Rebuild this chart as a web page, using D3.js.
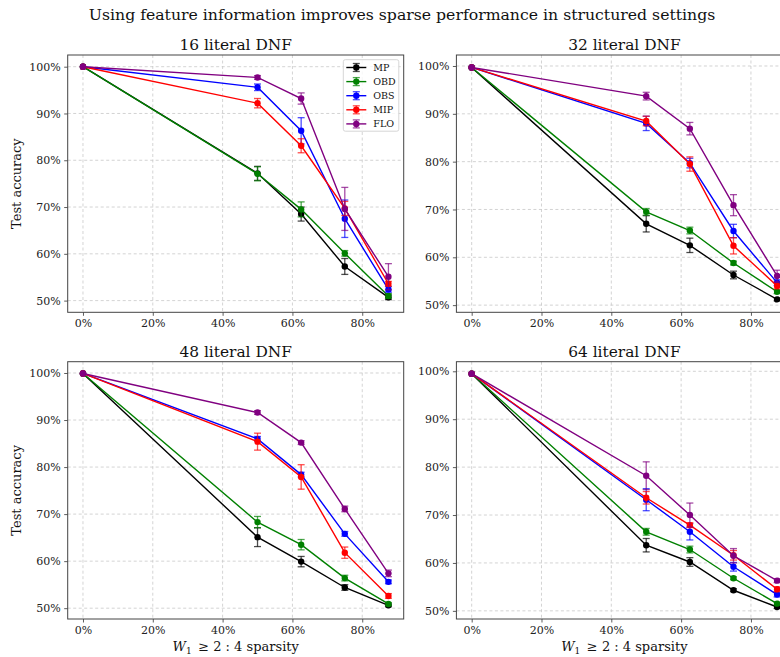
<!DOCTYPE html>
<html>
<head>
<meta charset="utf-8">
<script src="https://cdn.jsdelivr.net/npm/d3@7"></script>
<style>
  body { margin: 0; background: #fff; }
  svg { display: block; font-family: "DejaVu Serif", serif; }
  .tick text { font-size: 11px; fill: #222; }
</style>
</head>
<body>
<div id="chart"></div>
<script>
// x values: sparsity levels
const sparsity = [0, 0.5, 0.625, 0.75, 0.875];
const methods = ['MP', 'OBD', 'OBS', 'MIP', 'FLO'];
const methodColors = ['#000000', '#008000', '#0000ff', '#ff0000', '#800080'];
const panelTitles = ['16 literal DNF', '32 literal DNF', '48 literal DNF', '64 literal DNF'];
const xTicks = [0, 0.2, 0.4, 0.6, 0.8];
const yTicks = [50, 60, 70, 80, 90, 100];

// test accuracy (%) per method, rows in the order of `methods`
const acc16 = [
    [100, 77.2, 68.5, 57.3, 50.7],
    [100, 77.1, 69.5, 60.1, 51.0],
    [100, 95.6, 86.3, 67.5, 52.4],
    [100, 92.2, 83.1, 69.7, 53.6],
    [100, 97.7, 93.2, 69.6, 55.1]
];
const err16 = [
    [0, 1.5, 1.5, 1.7, 0.5],
    [0, 1.5, 1.6, 0.6, 0.5],
    [0, 0.7, 2.8, 4.0, 0.6],
    [0, 1.0, 1.5, 1.5, 0.5],
    [0, 0.4, 1.2, 4.6, 2.8]
];
const acc32 = [
    [99.7, 67.0, 62.5, 56.3, 51.2],
    [99.7, 69.5, 65.6, 58.8, 52.8],
    [99.7, 88.0, 79.7, 65.5, 54.7],
    [99.7, 88.5, 79.5, 62.4, 54.0],
    [99.7, 93.7, 86.9, 70.9, 56.1]
];
const err32 = [
    [0, 1.7, 1.5, 0.8, 0.3],
    [0, 0.7, 0.7, 0.4, 0.4],
    [0, 1.5, 1.0, 1.4, 0.6],
    [0, 1.0, 1.5, 1.7, 0.6],
    [0, 0.8, 1.3, 2.2, 1.2]
];
const acc48 = [
    [99.9, 65.1, 59.9, 54.4, 50.6],
    [99.9, 68.3, 63.5, 56.4, 50.9],
    [99.9, 86.0, 78.4, 65.8, 55.6],
    [99.9, 85.4, 77.9, 61.8, 52.6],
    [99.9, 91.6, 85.2, 71.1, 57.4]
];
const err48 = [
    [0, 2.0, 1.1, 0.6, 0.3],
    [0, 1.2, 1.1, 0.6, 0.3],
    [0, 0.5, 0.5, 0.5, 0.4],
    [0, 1.8, 2.6, 1.2, 0.5],
    [0, 0.4, 0.4, 0.6, 0.7]
];
const acc64 = [
    [99.5, 63.7, 60.2, 54.3, 50.8],
    [99.5, 66.5, 62.8, 56.8, 51.5],
    [99.5, 73.2, 66.5, 59.2, 53.4],
    [99.5, 73.6, 67.9, 61.6, 54.5],
    [99.5, 78.2, 70.0, 61.5, 56.3]
];
const err64 = [
    [0, 1.4, 0.9, 0.3, 0.3],
    [0, 0.7, 0.7, 0.3, 0.3],
    [0, 2.3, 1.7, 0.9, 0.5],
    [0, 1.3, 0.5, 1.0, 0.5],
    [0, 2.9, 2.5, 1.5, 0.4]
];
// y-axis limits of each panel
const yLimits = [[47.5, 102.5], [48.5, 102.3], [47.7, 102.4], [48.3, 102.0]];

const panelAcc = [acc16, acc32, acc48, acc64];
const panelErr = [err16, err32, err48, err64];

const width = 780, height = 657;
const svg = d3.select('#chart').append('svg')
    .attr('width', width)
    .attr('height', height);

// panel boxes (left, top); all panels share the same size
const panelW = 336, panelH = 257.3;
const panelPos = [[67.7, 55], [456.4, 55], [67.7, 361.7], [456.4, 361.7]];

svg.append('text')
    .attr('x', 402)
    .attr('y', 20)
    .attr('text-anchor', 'middle')
    .attr('font-size', '15.7px')
    .attr('fill', '#111')
    .text('Using feature information improves sparse performance in structured settings');

panelTitles.forEach((title, p) => {
    const [left, top] = panelPos[p];
    const g = svg.append('g').attr('transform', `translate(${left},${top})`);

    const x = d3.scaleLinear().domain([-0.04375, 0.91875]).range([0, panelW]);
    const y = d3.scaleLinear().domain(yLimits[p]).range([panelH, 0]);

    // grid lines
    g.append('g').selectAll('line.gx')
        .data(xTicks)
        .join('line')
        .attr('x1', d => x(d)).attr('x2', d => x(d))
        .attr('y1', 0).attr('y2', panelH)
        .attr('stroke', '#c8c8c8').attr('stroke-width', 0.8)
        .attr('stroke-dasharray', '3,2.5');
    g.append('g').selectAll('line.gy')
        .data(yTicks)
        .join('line')
        .attr('x1', 0).attr('x2', panelW)
        .attr('y1', d => y(d)).attr('y2', d => y(d))
        .attr('stroke', '#c8c8c8').attr('stroke-width', 0.8)
        .attr('stroke-dasharray', '3,2.5');

    // axes
    const xAxis = g.append('g')
        .attr('transform', `translate(0,${panelH})`)
        .call(d3.axisBottom(x).tickValues(xTicks).tickFormat(d => Math.round(d * 100) + '%').tickSize(3.5).tickPadding(3.5));
    const yAxis = g.append('g')
        .call(d3.axisLeft(y).tickValues(yTicks).tickFormat(d => d + '%').tickSize(3.5).tickPadding(3.5));
    [xAxis, yAxis].forEach(a => {
        a.select('.domain').remove();
        a.selectAll('.tick line').attr('stroke', '#333').attr('stroke-width', 0.8);
        a.selectAll('.tick text').attr('font-family', '"DejaVu Serif", serif');
    });

    // series: draw MP first so FLO ends up on top
    const line = d3.line().x(d => x(d.x)).y(d => y(d.v));
    methods.forEach((m, i) => {
        const pts = sparsity.map((s, k) => ({ x: s, v: panelAcc[p][i][k], e: panelErr[p][i][k] }));
        const color = methodColors[i];
        const sg = g.append('g');
        sg.append('path')
            .datum(pts)
            .attr('d', line)
            .attr('fill', 'none')
            .attr('stroke', color)
            .attr('stroke-width', 1.4);
        const eb = sg.selectAll('g.err')
            .data(pts.filter(d => d.e > 0))
            .join('g')
            .attr('stroke', color)
            .attr('stroke-opacity', 0.7)
            .attr('stroke-width', 1.3);
        eb.append('line')
            .attr('x1', d => x(d.x)).attr('x2', d => x(d.x))
            .attr('y1', d => y(d.v - d.e)).attr('y2', d => y(d.v + d.e));
        eb.append('line')
            .attr('x1', d => x(d.x) - 3.5).attr('x2', d => x(d.x) + 3.5)
            .attr('y1', d => y(d.v - d.e)).attr('y2', d => y(d.v - d.e));
        eb.append('line')
            .attr('x1', d => x(d.x) - 3.5).attr('x2', d => x(d.x) + 3.5)
            .attr('y1', d => y(d.v + d.e)).attr('y2', d => y(d.v + d.e));
        sg.selectAll('circle')
            .data(pts)
            .join('circle')
            .attr('cx', d => x(d.x))
            .attr('cy', d => y(d.v))
            .attr('r', 3.2)
            .attr('fill', color);
    });

    // frame
    g.append('rect')
        .attr('width', panelW).attr('height', panelH)
        .attr('fill', 'none')
        .attr('stroke', '#444')
        .attr('stroke-width', 1);

    g.append('text')
        .attr('x', panelW / 2)
        .attr('y', -5)
        .attr('text-anchor', 'middle')
        .attr('font-size', '15.4px')
        .attr('fill', '#111')
        .text(title);

    if (p % 2 === 0) {
        g.append('text')
            .attr('transform', `translate(${-47},${panelH / 2}) rotate(-90)`)
            .attr('text-anchor', 'middle')
            .attr('font-size', '13px')
            .attr('fill', '#111')
            .text('Test accuracy');
    }
    if (p >= 2) {
        const lbl = g.append('text')
            .attr('x', panelW / 2)
            .attr('y', panelH + 32)
            .attr('text-anchor', 'middle')
            .attr('font-size', '13px')
            .attr('fill', '#111');
        lbl.append('tspan').attr('font-style', 'italic').text('W');
        lbl.append('tspan').attr('font-size', '9px').attr('dy', 3).text('1');
        lbl.append('tspan').attr('dy', -3).text('\u2002\u2265 2 : 4 sparsity');
    }

    // legend only in the first panel
    if (p === 0) {
        const lg = g.append('g').attr('transform', `translate(${343.3 - left},${59.7 - top})`);
        lg.append('rect')
            .attr('width', 55.5).attr('height', 71.5)
            .attr('rx', 2)
            .attr('fill', 'rgba(255,255,255,0.8)')
            .attr('stroke', '#d6d6d6');
        methods.forEach((m, i) => {
            const ly = 7.8 + i * 14.1;
            const row = lg.append('g').attr('transform', `translate(0,${ly})`);
            row.append('line').attr('x1', 3).attr('x2', 23).attr('stroke', methodColors[i]).attr('stroke-width', 1.4);
            row.append('line').attr('x1', 13).attr('x2', 13).attr('y1', -4).attr('y2', 4)
                .attr('stroke', methodColors[i]).attr('stroke-opacity', 0.7).attr('stroke-width', 1.3);
            row.append('line').attr('x1', 9.5).attr('x2', 16.5).attr('y1', -4).attr('y2', -4)
                .attr('stroke', methodColors[i]).attr('stroke-opacity', 0.7).attr('stroke-width', 1.3);
            row.append('line').attr('x1', 9.5).attr('x2', 16.5).attr('y1', 4).attr('y2', 4)
                .attr('stroke', methodColors[i]).attr('stroke-opacity', 0.7).attr('stroke-width', 1.3);
            row.append('circle').attr('cx', 13).attr('r', 3.2).attr('fill', methodColors[i]);
            row.append('text')
                .attr('x', 30).attr('y', 3.5)
                .attr('font-size', '9.5px')
                .attr('fill', '#111')
                .text(m);
        });
    }
});
</script>
</body>
</html>
